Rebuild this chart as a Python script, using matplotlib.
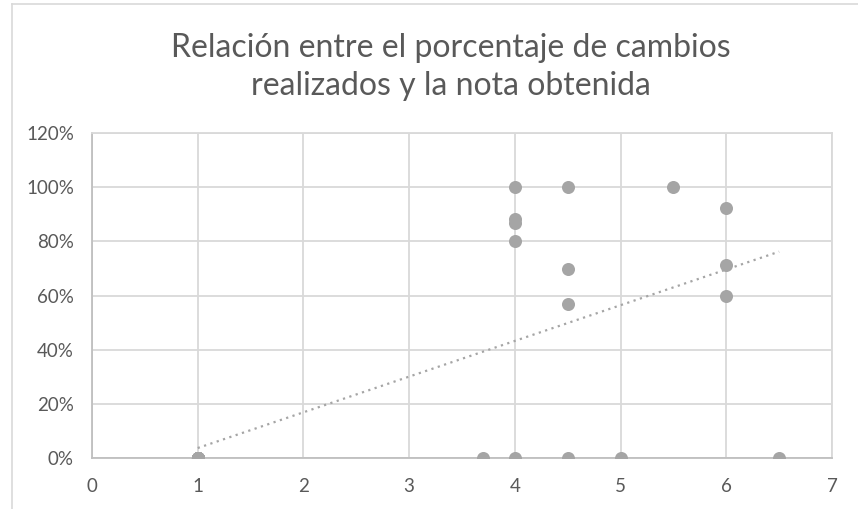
import matplotlib
matplotlib.use('Agg')
import matplotlib.pyplot as plt
from matplotlib.lines import Line2D
from matplotlib.ticker import PercentFormatter
import numpy as np

# Nota obtenida vs porcentaje de cambios realizados (una fila por alumno)
notas = [1, 1, 1, 1, 1, 1, 1, 1, 1, 1, 1, 1,
         3.7, 4, 4.5, 5, 6.5,
         4, 4, 4, 4,
         4.5, 4.5, 4.5,
         5.5,
         6, 6, 6]
cambios = [0, 0, 0, 0, 0, 0, 0, 0, 0, 0, 0, 0,
           0, 0, 0, 0, 0,
           1.0, 0.882, 0.867, 0.80,
           1.0, 0.70, 0.571,
           1.0,
           0.923, 0.714, 0.60]

titulo = 'Relación entre el porcentaje de cambios\nrealizados y la nota obtenida'

gris_texto = '#595959'
gris_punto = '#a5a5a5'
gris_rejilla = '#d9d9d9'

plt.rcParams['font.family'] = ['Lato', 'DejaVu Sans']

fig = plt.figure(figsize=(8.58, 5.09), dpi=100)
ax = fig.add_axes([92 / 858, 50.7 / 509, 740 / 858, 325.3 / 509])

# marco del gráfico (solo se ven los bordes superior e izquierdo)
fig.add_artist(Line2D([12 / 858, 12 / 858], [0, 505 / 509], transform=fig.transFigure,
                      color=gris_rejilla, lw=1.2))
fig.add_artist(Line2D([12 / 858, 1], [505 / 509, 505 / 509], transform=fig.transFigure,
                      color=gris_rejilla, lw=1.2))

ax.scatter(notas, cambios, s=88, color=gris_punto, zorder=3, linewidths=0)

# línea de tendencia lineal
x = np.array(notas, dtype=float)
y = np.array(cambios, dtype=float)
m, b = np.polyfit(x, y, 1)
xt = np.array([x.min(), x.max()])
ax.plot(xt, m * xt + b, color=gris_punto, lw=1.6, linestyle=(0, (1, 2)), zorder=2)

ax.set_xlim(0, 7)
ax.set_ylim(0, 1.2)
ax.set_xticks(range(0, 8))
ax.set_yticks(np.arange(0, 1.21, 0.2))
ax.yaxis.set_major_formatter(PercentFormatter(1.0, decimals=0))
ax.grid(True, color=gris_rejilla, lw=1.3)
ax.set_axisbelow(True)
for lado in ['top', 'right']:
    ax.spines[lado].set_color(gris_rejilla)
    ax.spines[lado].set_linewidth(1.3)
for lado in ['left', 'bottom']:
    ax.spines[lado].set_color('#bfbfbf')
    ax.spines[lado].set_linewidth(1.3)
ax.tick_params(axis='both', length=0, labelsize=13.5, colors=gris_texto)
ax.tick_params(axis='x', pad=14)
ax.tick_params(axis='y', pad=13)

fig.text(451 / 858, (509 - 67) / 509, titulo, ha='center', va='center',
         fontsize=23, color=gris_texto, linespacing=1.3, transform=fig.transFigure)

fig.savefig('out.png', dpi=100)
